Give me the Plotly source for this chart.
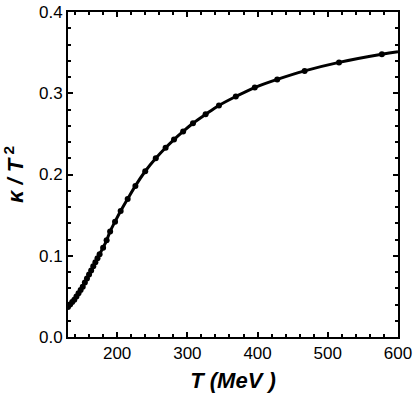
import plotly.graph_objects as go

# temperature (MeV) and kappa / T^2
temperature = [130, 133, 136, 139, 142, 145, 148, 151, 154, 157, 160, 163,
               166, 169, 172, 175, 180, 185, 190, 197, 205, 215, 226, 240,
               255, 269, 281, 294, 308, 326, 345, 369, 396, 428, 467, 516,
               577, 600]
kappa_t2 = [0.037, 0.040, 0.043, 0.046, 0.050, 0.054, 0.058, 0.062, 0.067,
            0.072, 0.077, 0.082, 0.087, 0.092, 0.097, 0.102, 0.110, 0.119,
            0.130, 0.142, 0.155, 0.170, 0.186, 0.204, 0.220, 0.233, 0.243,
            0.253, 0.263, 0.274, 0.285, 0.296, 0.307, 0.317, 0.3275, 0.338,
            0.348, 0.351]

x_ticks = [200, 300, 400, 500, 600]
y_ticks = [0.0, 0.1, 0.2, 0.3, 0.4]
y_tick_labels = ["0.0", "0.1", "0.2", "0.3", "0.4"]

fig = go.Figure()

# smooth curve
fig.add_trace(
    go.Scatter(
        x=temperature,
        y=kappa_t2,
        mode="lines",
        line=dict(color="black", width=3, shape="spline"),
        showlegend=False
    )
)

# data points (last value is only the curve end)
fig.add_trace(
    go.Scatter(
        x=temperature[:-1],
        y=kappa_t2[:-1],
        mode="markers",
        marker=dict(color="black", size=6),
        showlegend=False
    )
)

axis_common = dict(
    showline=True,
    linecolor="black",
    linewidth=2,
    mirror="ticks",
    ticks="inside",
    ticklen=5,
    tickwidth=2,
    tickcolor="black",
    showgrid=False,
    zeroline=False,
    automargin=False,
    ticklabeloverflow="allow",
    tickfont=dict(family="Liberation Sans, Arial", size=17, color="black"),
)

title_font = dict(family="Liberation Sans, Arial", size=22, color="black")

fig.update_layout(
    width=415,
    height=399,
    margin=dict(l=68, r=17, t=12, b=62),
    plot_bgcolor="white",
    paper_bgcolor="white",
    xaxis=dict(
        range=[130, 600],
        tickvals=x_ticks,
        minor=dict(ticks="inside", ticklen=3, tickwidth=1.5,
                   tickcolor="black", dtick=20, tick0=0),
        title=dict(text="<b><i>T</i> <i>(MeV )</i></b>",
                   font=title_font, standoff=10),
        **axis_common
    ),
    yaxis=dict(
        range=[0, 0.4],
        tickvals=y_ticks,
        ticktext=y_tick_labels,
        minor=dict(ticks="inside", ticklen=3, tickwidth=1.5,
                   tickcolor="black", dtick=0.02, tick0=0),
        title=dict(text="<b><i>κ / T</i><sup> 2</sup></b>",
                   font=title_font, standoff=12),
        **axis_common
    ),
)

# drop the default page margin so the figure sits at the window corner
fig.write_html(
    "out.html",
    config={"displayModeBar": False},
    post_script="document.body.style.margin = '0px';"
)
